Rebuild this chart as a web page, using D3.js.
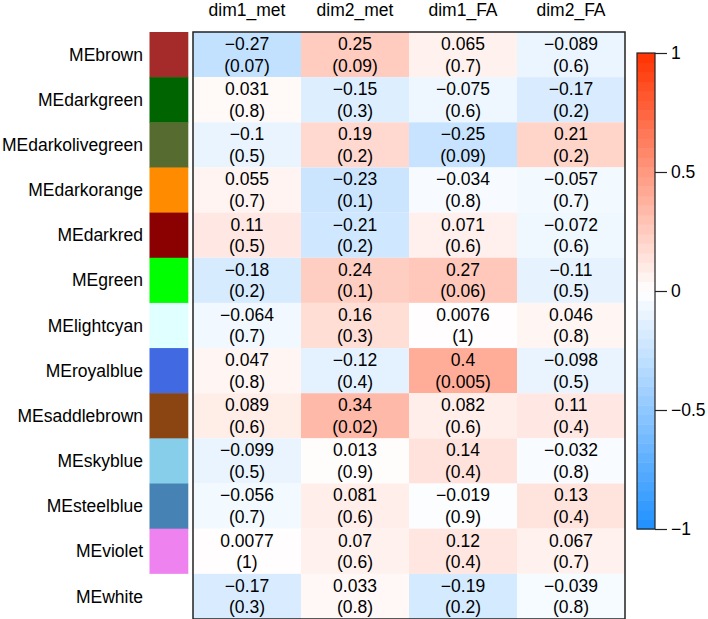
<!DOCTYPE html>
<html>
<head>
<meta charset="utf-8">
<script src="https://cdn.jsdelivr.net/npm/d3@7"></script>
<style>
  body { margin: 0; background: #fff; }
  text { font-family: Helvetica, 'Liberation Sans', Arial, sans-serif; fill: #000; }
</style>
</head>
<body>
<div id="chart"></div>
<script>
const modules = ['MEbrown', 'MEdarkgreen', 'MEdarkolivegreen', 'MEdarkorange', 'MEdarkred', 'MEgreen',
  'MElightcyan', 'MEroyalblue', 'MEsaddlebrown', 'MEskyblue', 'MEsteelblue', 'MEviolet', 'MEwhite'];
const moduleColors = ['brown', 'darkgreen', 'darkolivegreen', 'darkorange', 'darkred', 'lime',
  'lightcyan', 'royalblue', 'saddlebrown', 'skyblue', 'steelblue', 'violet', 'white'];
const traits = ['dim1_met', 'dim2_met', 'dim1_FA', 'dim2_FA'];

// correlation per module, one entry per trait
const corr = [
  [-0.27, 0.25, 0.065, -0.089],
  [0.031, -0.15, -0.075, -0.17],
  [-0.1, 0.19, -0.25, 0.21],
  [0.055, -0.23, -0.034, -0.057],
  [0.11, -0.21, 0.071, -0.072],
  [-0.18, 0.24, 0.27, -0.11],
  [-0.064, 0.16, 0.0076, 0.046],
  [0.047, -0.12, 0.4, -0.098],
  [0.089, 0.34, 0.082, 0.11],
  [-0.099, 0.013, 0.14, -0.032],
  [-0.056, 0.081, -0.019, 0.13],
  [0.0077, 0.07, 0.12, 0.067],
  [-0.17, 0.033, -0.19, -0.039]
];
// p-values, same layout
const pval = [
  ['0.07', '0.09', '0.7', '0.6'],
  ['0.8', '0.3', '0.6', '0.2'],
  ['0.5', '0.2', '0.09', '0.2'],
  ['0.7', '0.1', '0.8', '0.7'],
  ['0.5', '0.2', '0.6', '0.6'],
  ['0.2', '0.1', '0.06', '0.5'],
  ['0.7', '0.3', '1', '0.8'],
  ['0.8', '0.4', '0.005', '0.5'],
  ['0.6', '0.02', '0.6', '0.4'],
  ['0.5', '0.9', '0.4', '0.8'],
  ['0.7', '0.6', '0.9', '0.4'],
  ['1', '0.6', '0.4', '0.7'],
  ['0.3', '0.8', '0.2', '0.8']
];
const legendTicks = [-1, -0.5, 0, 0.5, 1];

const width = 708, height = 619;
const fmt = v => String(v).replace('-', '\u2212');

const svg = d3.select('#chart').append('svg').attr('width', width).attr('height', height);

const x = d3.scaleBand().domain(traits).range([193, 625]);
const y = d3.scaleBand().domain(modules).range([32, 619]);
const color = d3.scaleLinear().domain([-1, 0, 1]).range(['rgb(30,144,255)', '#ffffff', 'rgb(255,50,0)']);

let cells = [];
modules.forEach((m, i) => {
  traits.forEach((t, j) => {
    cells.push({ m: m, t: t, r: corr[i][j], p: pval[i][j] });
  });
});

// cells
svg.append('g').selectAll('rect')
  .data(cells)
  .enter()
  .append('rect')
  .attr('x', d => x(d.t))
  .attr('y', d => y(d.m))
  .attr('width', x.bandwidth())
  .attr('height', y.bandwidth())
  .attr('fill', d => color(d.r));

let labels = svg.append('g').attr('text-anchor', 'middle').style('font-size', '17.5px');
labels.selectAll('text.r')
  .data(cells)
  .enter()
  .append('text')
  .attr('class', 'r')
  .attr('x', d => x(d.t) + x.bandwidth() / 2)
  .attr('y', d => y(d.m) + y.bandwidth() / 2 - 10.8)
  .attr('dy', '0.35em')
  .text(d => fmt(d.r));
labels.selectAll('text.p')
  .data(cells)
  .enter()
  .append('text')
  .attr('class', 'p')
  .attr('x', d => x(d.t) + x.bandwidth() / 2)
  .attr('y', d => y(d.m) + y.bandwidth() / 2 + 10.8)
  .attr('dy', '0.35em')
  .text(d => '(' + d.p + ')');

// frame
svg.append('rect')
  .attr('x', 193).attr('y', 32)
  .attr('width', x.range()[1] - 193).attr('height', 619 - 32)
  .attr('fill', 'none').attr('stroke', '#222').attr('stroke-width', 1.5);

// module colour swatches
svg.append('g').selectAll('rect')
  .data(modules)
  .enter()
  .append('rect')
  .attr('x', 149.5)
  .attr('y', d => y(d))
  .attr('width', 38.8)
  .attr('height', y.bandwidth() + 0.5)
  .attr('fill', (d, i) => moduleColors[i]);

svg.append('g').attr('text-anchor', 'end').style('font-size', '17.5px')
  .selectAll('text')
  .data(modules)
  .enter()
  .append('text')
  .attr('x', 143)
  .attr('y', d => y(d) + y.bandwidth() / 2)
  .attr('dy', '0.35em')
  .text(d => d);

svg.append('g').attr('text-anchor', 'middle').style('font-size', '17.5px')
  .selectAll('text')
  .data(traits)
  .enter()
  .append('text')
  .attr('x', d => x(d) + x.bandwidth() / 2)
  .attr('y', 15.5)
  .text(d => d);

// colour legend
const ly = d3.scaleLinear().domain([-1, 1]).range([529, 53]);
const steps = d3.range(-1, 1, 2 / 50);
let legend = svg.append('g');
legend.selectAll('rect')
  .data(steps)
  .enter()
  .append('rect')
  .attr('x', 637)
  .attr('y', d => ly(d + 2 / 50))
  .attr('width', 18)
  .attr('height', ly(-1) - ly(-1 + 2 / 50) + 0.5)
  .attr('fill', d => color(d + 1 / 50));
legend.append('rect')
  .attr('x', 637).attr('y', 53).attr('width', 18).attr('height', 529 - 53)
  .attr('fill', 'none').attr('stroke', '#222').attr('stroke-width', 1.2);
legend.append('g')
  .attr('transform', 'translate(655,0)')
  .call(d3.axisRight(ly).tickValues(legendTicks).tickSize(12).tickPadding(4).tickFormat(d => fmt(d)))
  .call(g => g.select('.domain').remove())
  .call(g => g.selectAll('line').attr('stroke', '#222').attr('stroke-width', 1.2))
  .call(g => g.selectAll('text').style('font-size', '17.5px').attr('font-family', null));
</script>
</body>
</html>
